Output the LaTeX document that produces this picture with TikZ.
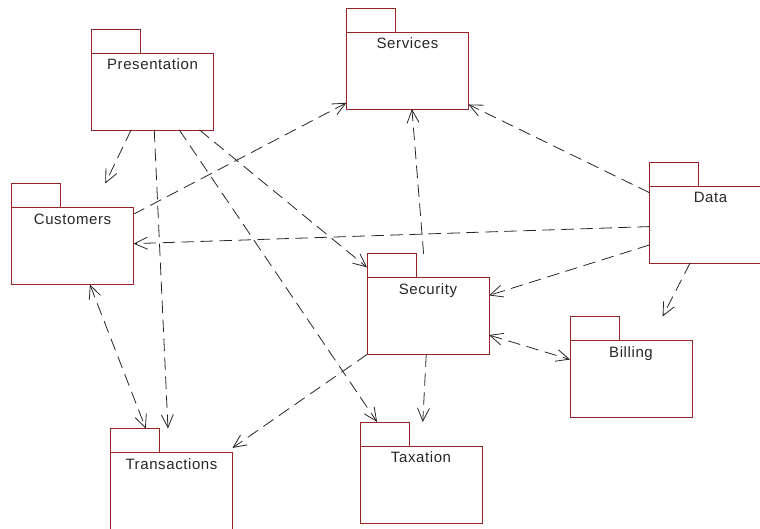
\documentclass[tikz,border=0pt]{standalone}
\usepackage{fontspec}
\setmainfont{Liberation Sans}
\newfontfamily\pkgfont[LetterSpace=4]{Liberation Sans}
\usetikzlibrary{arrows.meta}

\definecolor{pkgred}{RGB}{150,35,40}

\begin{document}
\begin{tikzpicture}[x=1pt,y=-1pt,line cap=round,
  every node/.style={font=\pkgfont\fontsize{15}{18}\selectfont},
  pkg/.style={rectangle,draw=none,minimum width=122pt,minimum height=101pt,inner sep=0pt,outer sep=0pt},
  pkgline/.style={draw=pkgred,line width=1pt},
  pkgname/.style={anchor=base,inner sep=0pt,text=black!85},
  dep/.style={draw=black!85,line width=0.8pt,dash pattern=on 12pt off 7pt,-{Straight Barb[length=13pt,width=12pt]}},
  bidep/.style={dep,{Straight Barb[length=13pt,width=12pt]}-{Straight Barb[length=13pt,width=12pt]}}]
  \useasboundingbox (0,0) rectangle (760,528);
  \clip (0,0) rectangle (760,528);
  % packages: tab on top, body below, name under the body's top edge
  \foreach \n/\x/\y/\t in {pres/152.5/79.5/Presentation,serv/407.5/58.5/Services,
      cust/72.5/234/Customers,secu/428/304/Security,data/710.5/212.5/Data,
      bill/631/367/Billing,trans/171.5/479/Transactions,tax/421/472.5/Taxation}{
    \node[pkg] (\n) at (\x,\y) {};
    \draw[pkgline] (\n.north west) rectangle ++(49,24);
    \draw[pkgline] ([yshift=-24pt]\n.north west) rectangle (\n.south east);
    \node[pkgname] (\n-t) at ([yshift=-40.5pt]\n.north) {\t};
  }
  % dependencies
  \foreach \a/\b in {pres.247/cust.57,pres.272/trans.94,pres.298/tax.131,pres.313/secu.149,
      cust.18/serv.216,data.193/cust.351,data.162/serv.323,data.208/secu.8,data.248/bill.58,
      secu.95/serv.275,secu.south west/trans.27,secu.268/tax.88}{
    \draw[dep] (\a) -- (\b);
  }
  \foreach \a/\b in {secu.333/bill.173,cust.289/trans.117}{
    \draw[bidep] (\a) -- (\b);
  }
\end{tikzpicture}
\end{document}
